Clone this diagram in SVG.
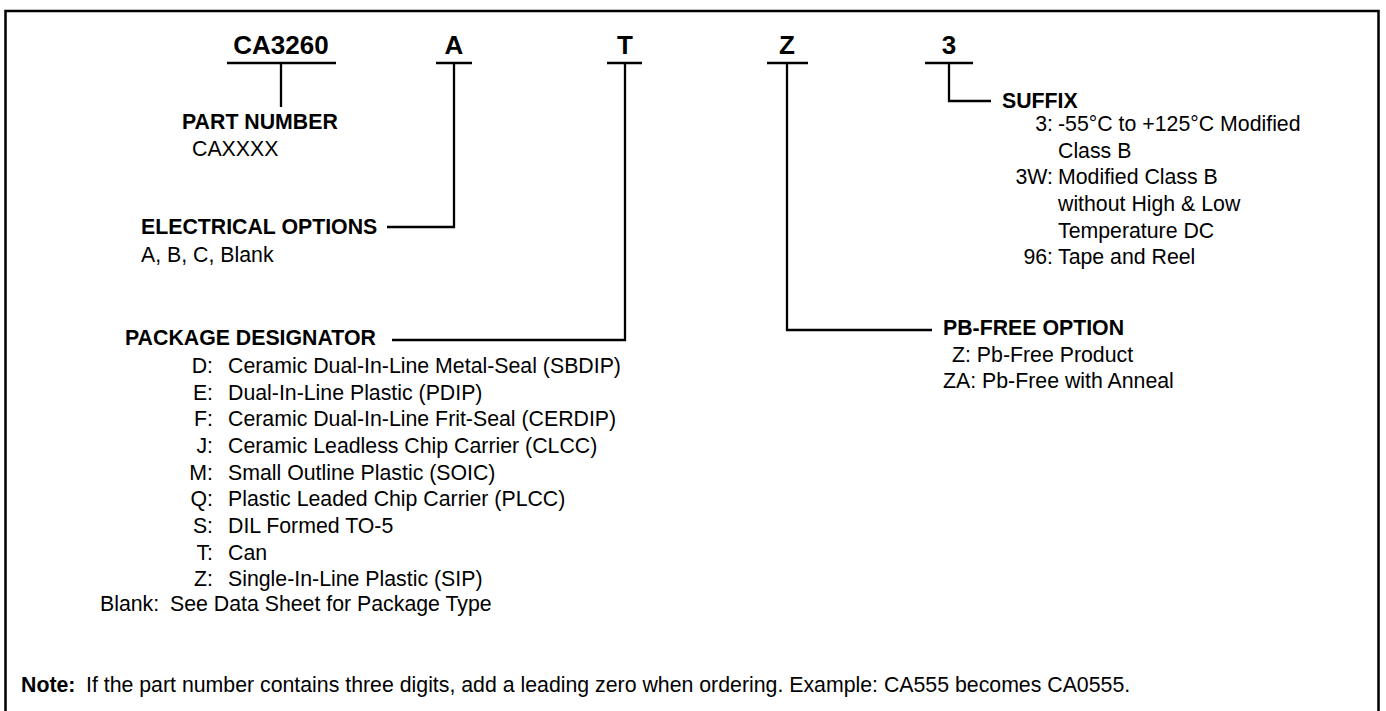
<svg xmlns="http://www.w3.org/2000/svg" width="1386" height="711" viewBox="0 0 1386 711">
<style>
text{font-family:"Liberation Sans",Arial,sans-serif;fill:#000}
.big{font-size:26px;font-weight:bold;text-anchor:middle}
.h{font-size:21.3px;font-weight:bold}
.t{font-size:21.3px}
.e{text-anchor:end}
.ln{fill:none;stroke:#000;stroke-width:2.3}
</style>
<rect x="0" y="0" width="1386" height="711" fill="#fff"/>
<rect x="5.5" y="11" width="1373" height="720" fill="none" stroke="#000" stroke-width="2.5"/>
<g id="connectors">
<path class="ln" d="M227 63H336M281 63V107"/>
<path class="ln" d="M436 63H472M454 63V227H387"/>
<path class="ln" d="M607 63H642M625 63V340H392"/>
<path class="ln" d="M767 63H808M787 63V330H932"/>
<path class="ln" d="M925 63H973M949 63V101H991"/>
</g>
<g id="code">
<text class="big" x="281" y="54">CA3260</text>
<text class="big" x="454" y="54">A</text>
<text class="big" x="625" y="54">T</text>
<text class="big" x="787" y="54">Z</text>
<text class="big" x="949" y="54">3</text>
</g>
<g id="part-number">
<text class="h" x="182" y="129">PART NUMBER</text>
<text class="t" x="192" y="156">CAXXXX</text>
</g>
<g id="electrical-options">
<text class="h" x="141" y="234">ELECTRICAL OPTIONS</text>
<text class="t" x="141" y="262">A, B, C, Blank</text>
</g>
<g id="package-designator">
<text class="h" x="125" y="345">PACKAGE DESIGNATOR</text>
<text class="t e" x="213" y="373">D:</text><text class="t" x="228" y="373">Ceramic Dual-In-Line Metal-Seal (SBDIP)</text>
<text class="t e" x="213" y="400">E:</text><text class="t" x="228" y="400">Dual-In-Line Plastic (PDIP)</text>
<text class="t e" x="213" y="426">F:</text><text class="t" x="228" y="426">Ceramic Dual-In-Line Frit-Seal (CERDIP)</text>
<text class="t e" x="213" y="453">J:</text><text class="t" x="228" y="453">Ceramic Leadless Chip Carrier (CLCC)</text>
<text class="t e" x="213" y="480">M:</text><text class="t" x="228" y="480">Small Outline Plastic (SOIC)</text>
<text class="t e" x="213" y="506">Q:</text><text class="t" x="228" y="506">Plastic Leaded Chip Carrier (PLCC)</text>
<text class="t e" x="213" y="533">S:</text><text class="t" x="228" y="533">DIL Formed TO-5</text>
<text class="t e" x="213" y="560">T:</text><text class="t" x="228" y="560">Can</text>
<text class="t e" x="213" y="586">Z:</text><text class="t" x="228" y="586">Single-In-Line Plastic (SIP)</text>
<text class="t" x="100" y="611">Blank:</text><text class="t" x="170" y="611">See Data Sheet for Package Type</text>
</g>
<g id="pb-free-option">
<text class="h" x="943" y="335">PB-FREE OPTION</text>
<text class="t" x="952" y="362">Z: Pb-Free Product</text>
<text class="t" x="943" y="388">ZA: Pb-Free with Anneal</text>
</g>
<g id="suffix">
<text class="h" x="1002" y="108">SUFFIX</text>
<text class="t e" x="1053" y="131">3:</text><text class="t" x="1058" y="131">-55°C to +125°C Modified</text>
<text class="t" x="1058" y="158">Class B</text>
<text class="t e" x="1053" y="184">3W:</text><text class="t" x="1058" y="184">Modified Class B</text>
<text class="t" x="1058" y="211">without High &amp; Low</text>
<text class="t" x="1058" y="238">Temperature DC</text>
<text class="t e" x="1053" y="264">96:</text><text class="t" x="1058" y="264">Tape and Reel</text>
</g>
<g id="note">
<text class="h" x="21" y="692">Note:</text>
<text class="t" x="86" y="692">If the part number contains three digits, add a leading zero when ordering. Example: CA555 becomes CA0555.</text>
</g>
</svg>
